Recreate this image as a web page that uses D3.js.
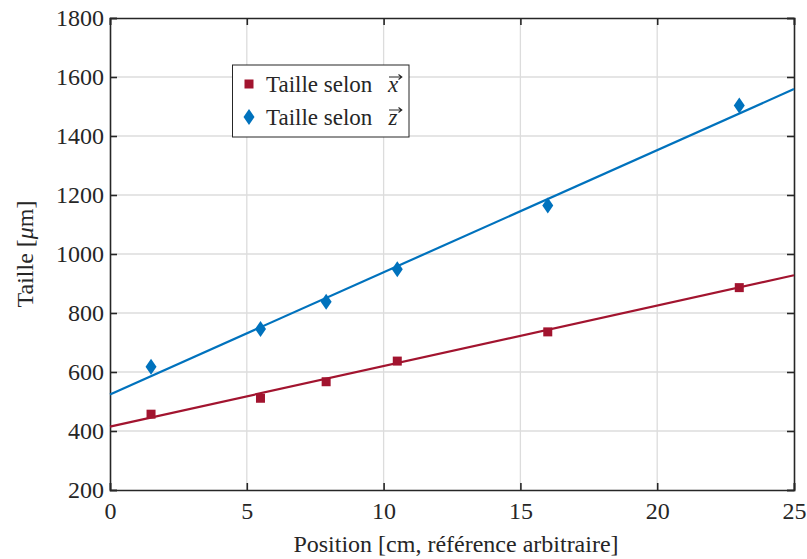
<!DOCTYPE html>
<html><head><meta charset="utf-8">
<script src="https://cdn.jsdelivr.net/npm/d3@7"></script>
</head><body style="margin:0">
<svg id="c" width="807" height="559" font-family="'Liberation Serif', 'Times New Roman', Tinos, serif"></svg>
<script>
const xTicks = [0, 5, 10, 15, 20, 25];
const yTicks = [200, 400, 600, 800, 1000, 1200, 1400, 1600, 1800];
const positions = [1.5, 5.5, 7.9, 10.5, 16, 23];
const tailleX = [457, 511, 567, 637, 736, 886];
const tailleZ = [618, 746, 838, 948, 1164, 1503];
const fitPos = [0, 25];
const fitX = [415, 928];
const fitZ = [524, 1559];
const seriesNames = ["Taille selon", "Taille selon"];
const vecNames = ["x", "z"];

const FONT = "'Liberation Serif', 'Times New Roman', Tinos, serif";
const red = "#A2142F", blue = "#0072BD", ink = "#262626";
const svg = d3.select("#c");
const L = 110, R = 794, T = 18, B = 490;
const x = d3.scaleLinear().domain([0, 25]).range([L, R]);
const y = d3.scaleLinear().domain([200, 1800]).range([B, T]);

// grid
svg.append("g").selectAll("line").data(xTicks.slice(1, -1)).join("line")
  .attr("x1", d => x(d)).attr("x2", d => x(d)).attr("y1", T).attr("y2", B)
  .attr("stroke", "#dcdcdc").attr("stroke-width", 1.3);
svg.append("g").selectAll("line").data(yTicks.slice(1, -1)).join("line")
  .attr("y1", d => y(d)).attr("y2", d => y(d)).attr("x1", L).attr("x2", R)
  .attr("stroke", "#dcdcdc").attr("stroke-width", 1.3);

// axes
const fs = 24;
const gx = svg.append("g").attr("transform", `translate(0,${B})`)
  .call(d3.axisBottom(x).tickValues(xTicks).tickSize(-7).tickPadding(12).tickFormat(d3.format("d")));
const gxt = svg.append("g").attr("transform", `translate(0,${T})`)
  .call(d3.axisTop(x).tickValues(xTicks).tickSize(-7).tickFormat(""));
const gy = svg.append("g").attr("transform", `translate(${L},0)`)
  .call(d3.axisLeft(y).tickValues(yTicks).tickSize(-7).tickPadding(6).tickFormat(d3.format("d")));
const gyr = svg.append("g").attr("transform", `translate(${R},0)`)
  .call(d3.axisRight(y).tickValues(yTicks).tickSize(-7).tickFormat(""));
[gx, gxt, gy, gyr].forEach(g => {
  g.attr("font-family", FONT).attr("font-size", fs);
  g.select(".domain").attr("stroke", ink).attr("stroke-width", 1.6);
  g.selectAll(".tick line").attr("stroke", ink).attr("stroke-width", 1.6);
  g.selectAll("text").attr("fill", ink).attr("font-family", FONT);
});
gx.selectAll(".tick text").attr("dy", "0.71em");

// fit lines
const line = d3.line().x(d => x(d[0])).y(d => y(d[1]));
svg.append("path").datum(fitPos.map((p, i) => [p, fitX[i]])).attr("d", line)
  .attr("fill", "none").attr("stroke", red).attr("stroke-width", 2.2);
svg.append("path").datum(fitPos.map((p, i) => [p, fitZ[i]])).attr("d", line)
  .attr("fill", "none").attr("stroke", blue).attr("stroke-width", 2.2);

// markers
const sq = 9;
svg.append("g").selectAll("rect").data(positions.map((p, i) => [p, tailleX[i]])).join("rect")
  .attr("x", d => x(d[0]) - sq / 2).attr("y", d => y(d[1]) - sq / 2)
  .attr("width", sq).attr("height", sq).attr("fill", red);
const diamond = (cx, cy) => `M${cx},${cy - 8}L${cx + 5.5},${cy}L${cx},${cy + 8}L${cx - 5.5},${cy}Z`;
svg.append("g").selectAll("path").data(positions.map((p, i) => [p, tailleZ[i]])).join("path")
  .attr("d", d => diamond(x(d[0]), y(d[1]))).attr("fill", blue);

// axis titles
svg.append("text").attr("x", (L + R) / 2 + 4).attr("y", 552).attr("text-anchor", "middle")
  .attr("font-family", FONT).attr("font-size", fs).attr("fill", ink)
  .text("Position [cm, référence arbitraire]");
const yt = svg.append("text").attr("transform", `translate(33,${(T + B) / 2}) rotate(-90)`)
  .attr("text-anchor", "middle").attr("font-family", FONT).attr("font-size", fs).attr("fill", ink);
yt.append("tspan").text("Taille [");
yt.append("tspan").attr("font-style", "italic").text("μ");
yt.append("tspan").text("m]");

// legend
const lg = svg.append("g");
lg.append("rect").attr("x", 232.5).attr("y", 65).attr("width", 176.5).attr("height", 72)
  .attr("fill", "#fff").attr("stroke", ink).attr("stroke-width", 1);
const rows = [84, 117];
lg.append("rect").attr("x", 249 - sq / 2).attr("y", rows[0] - sq / 2).attr("width", sq).attr("height", sq).attr("fill", red);
lg.append("path").attr("d", diamond(249, rows[1])).attr("fill", blue);
rows.forEach((ry, i) => {
  lg.append("text").attr("x", 266).attr("y", ry + 8)
    .attr("font-family", FONT).attr("font-size", 23).attr("fill", ink).text(seriesNames[i]);
  lg.append("text").attr("x", 393).attr("y", ry + 8).attr("text-anchor", "middle")
    .attr("font-family", FONT).attr("font-style", "italic").attr("font-size", 23).attr("fill", ink).text(vecNames[i]);
  const ay = ry - 7;
  lg.append("path").attr("d", `M389,${ay}H401.5M398.5,${ay - 2.5}L401.8,${ay}L398.5,${ay + 2.5}`)
    .attr("fill", "none").attr("stroke", ink).attr("stroke-width", 1.1);
});
</script>
</body></html>
